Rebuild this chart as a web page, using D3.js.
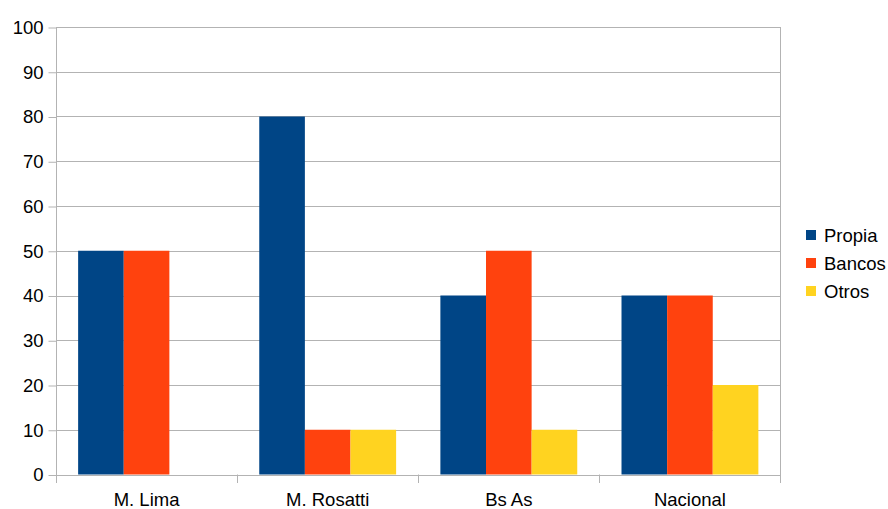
<!DOCTYPE html>
<html>
<head>
<meta charset="utf-8">
<script src="https://cdn.jsdelivr.net/npm/d3@7"></script>
<style>
  html, body { margin: 0; padding: 0; background: #fff; }
  svg { display: block; font-family: "Liberation Sans", Arial, sans-serif; }
</style>
</head>
<body>
<svg id="chart" width="888" height="509"></svg>
<script>
// Categories, series and tick labels
const categories = ["M. Lima", "M. Rosatti", "Bs As", "Nacional"];
const seriesNames = ["Propia", "Bancos", "Otros"];
const propia = [50, 80, 40, 40];
const bancos = [50, 10, 50, 40];
const otros = [0, 10, 10, 20];
const yTicks = [0, 10, 20, 30, 40, 50, 60, 70, 80, 90, 100];
const colors = ["#004586", "#ff420e", "#ffd320"];

const seriesValues = [propia, bancos, otros];

const svg = d3.select("#chart");
const plotLeft = 56, plotRight = 780.5, plotTop = 27, plotBottom = 474.5;
const fontSize = 18.5;

const x0 = d3.scaleBand().domain(categories).range([plotLeft, plotRight]).paddingInner(0).paddingOuter(0);
const x1 = d3.scaleBand().domain(seriesNames).range([0, x0.bandwidth()]).paddingInner(0).paddingOuter(0.485);
const y = d3.scaleLinear().domain([0, 100]).range([plotBottom, plotTop]);

const grid = "#b3b3b3";

// Horizontal grid lines
svg.append("g").selectAll("line").data(yTicks).join("line")
  .attr("x1", plotLeft).attr("x2", plotRight)
  .attr("y1", d => Math.round(y(d)) + 0.5).attr("y2", d => Math.round(y(d)) + 0.5)
  .attr("stroke", grid).attr("stroke-width", 1);

// Bars
const groups = svg.append("g").selectAll("g").data(categories).join("g")
  .attr("transform", d => `translate(${x0(d)},0)`);
groups.selectAll("rect")
  .data((c, i) => seriesNames.map((s, j) => ({ s, v: seriesValues[j][i], j })))
  .join("rect")
  .attr("x", d => x1(d.s))
  .attr("width", x1.bandwidth())
  .attr("y", d => y(d.v))
  .attr("height", d => y(0) - y(d.v))
  .attr("fill", d => colors[d.j]);

// Y axis
const yAxis = d3.axisLeft(y).tickValues(yTicks).tickSize(8).tickPadding(5);
const ya = svg.append("g").attr("transform", `translate(${plotLeft + 0.5},0.5)`).call(yAxis);
ya.select(".domain").remove();
ya.selectAll(".tick line").attr("stroke", grid);
ya.selectAll(".tick text").attr("font-size", fontSize).attr("fill", "#000")
  .attr("font-family", "Liberation Sans, Arial, sans-serif");
svg.append("line").attr("x1", plotLeft + 0.5).attr("x2", plotLeft + 0.5)
  .attr("y1", plotTop).attr("y2", plotBottom + 8.5).attr("stroke", grid);

// Right border
svg.append("line").attr("x1", plotRight).attr("x2", plotRight)
  .attr("y1", plotTop).attr("y2", plotBottom + 8.5).attr("stroke", grid);

// X axis tick marks at category boundaries
const bounds = categories.map(c => x0(c)).concat([plotRight]);
svg.append("g").selectAll("line").data(bounds).join("line")
  .attr("x1", d => Math.round(d - 0.5) + 0.5).attr("x2", d => Math.round(d - 0.5) + 0.5)
  .attr("y1", plotBottom).attr("y2", plotBottom + 8.5)
  .attr("stroke", grid);

// Category labels
svg.append("g").selectAll("text").data(categories).join("text")
  .attr("x", d => x0(d) + x0.bandwidth() / 2)
  .attr("y", 506)
  .attr("text-anchor", "middle")
  .attr("font-size", fontSize)
  .attr("fill", "#000")
  .text(d => d);

// Legend
const legend = svg.append("g").selectAll("g").data(seriesNames).join("g")
  .attr("transform", (d, i) => `translate(806,${230 + i * 28})`);
legend.append("rect").attr("width", 10).attr("height", 10).attr("fill", (d, i) => colors[i]);
legend.append("text").attr("x", 18).attr("y", 11.5)
  .attr("font-size", fontSize).attr("fill", "#000").text(d => d);
</script>
</body>
</html>
